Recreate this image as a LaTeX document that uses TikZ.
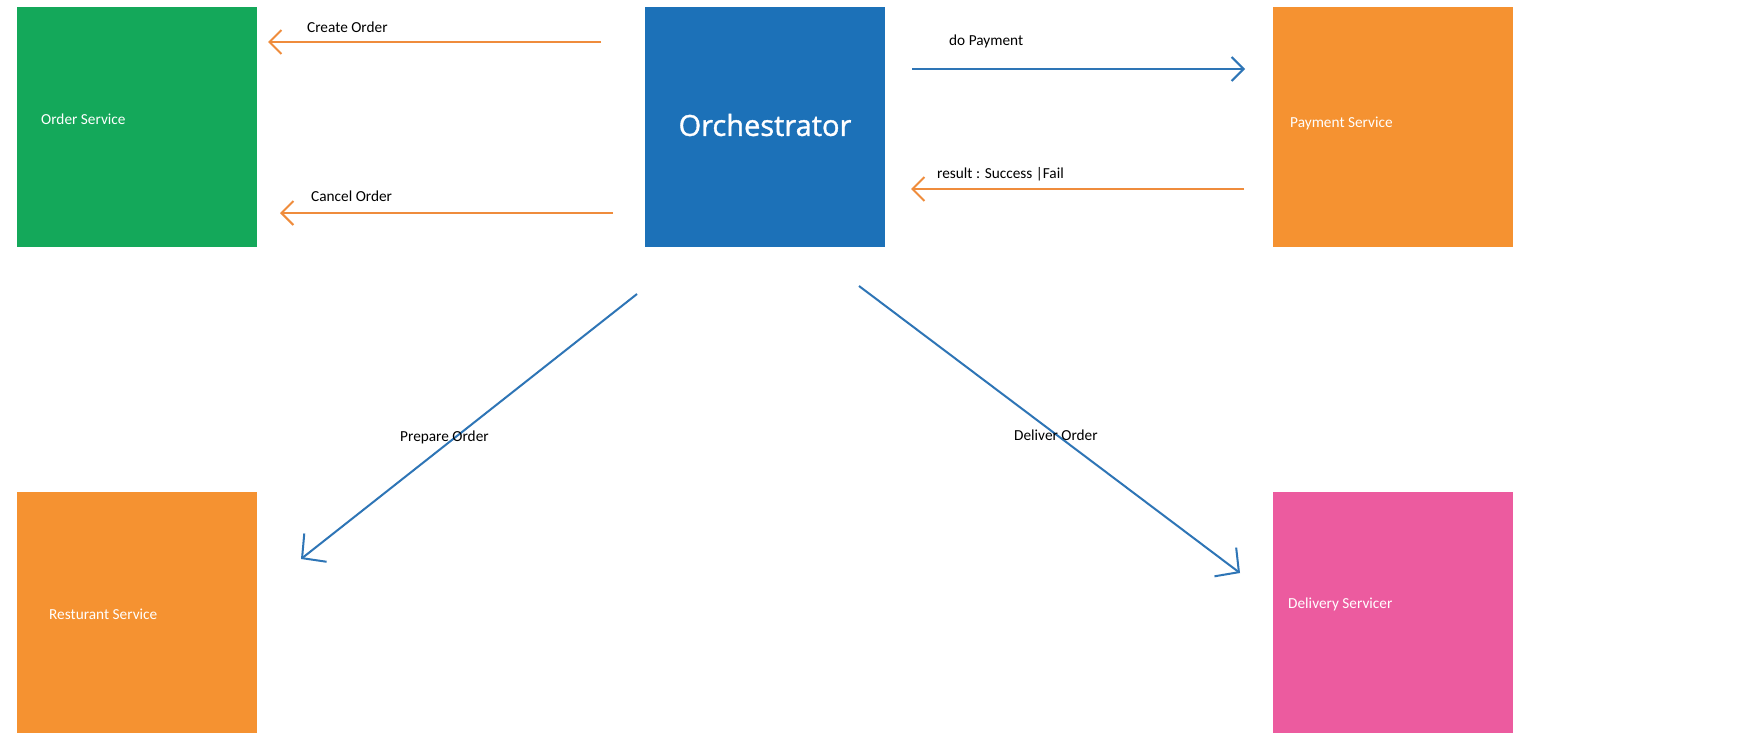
\documentclass[tikz,border=0pt]{standalone}
\usepackage{fontspec}
\setmainfont{Carlito}
\newfontfamily\orchfont[FakeBold=1.2]{Open Sans}
\usetikzlibrary{arrows.meta}
\definecolor{ogreen}{HTML}{14A85A}
\definecolor{oblue}{HTML}{1C71B8}
\definecolor{oorange}{HTML}{F59231}
\definecolor{opink}{HTML}{EC5B9F}
\definecolor{aorange}{HTML}{EF8C3C}
\definecolor{ablue}{HTML}{2E75B6}
\tikzset{
  svcbox/.style={rectangle, minimum width=240pt, minimum height=240pt, inner sep=0pt, draw=none},
  boxtext/.style={anchor=west, inner sep=0pt, text=white, font=\fontsize{15.3}{17}\selectfont},
  lbl/.style={anchor=west, inner sep=0pt, text=black, font=\fontsize{15.3}{17}\selectfont},
  oarrow/.style={draw=aorange, line width=2pt, -{Straight Barb[length=12pt,width=24pt,line width=2pt]}},
  barrow/.style={draw=ablue, line width=2pt, -{Straight Barb[length=12pt,width=24pt,line width=2pt]}},
  darrow/.style={draw=ablue, line width=2pt, -{Straight Barb[length=17pt,width=36pt,line width=2pt]}}
}
\begin{document}
\begin{tikzpicture}[x=1pt,y=-1pt]
\useasboundingbox[fill=white] (0,0) rectangle (1743,739);
% boxes
\node[svcbox, fill=ogreen] (order) at (137,126.5) {};
\node[svcbox, fill=oblue] (orch) at (765,126.5) {};
\node[svcbox, fill=oorange] (pay) at (1392.5,126.5) {};
\node[svcbox, fill=oorange, minimum height=241pt] (rest) at (137,612.5) {};
\node[svcbox, fill=opink, minimum height=241pt] (deliv) at (1392.5,612.5) {};
% box texts
\node[boxtext] (ordert) at (41,119) {Order Service};
\node[text=white, inner sep=0pt, font=\orchfont\fontsize{29}{34}\selectfont] (orcht) at (765,125) {Orchestrator};
\node[boxtext] (payt) at (1290,123) {Payment Service};
\node[boxtext] (restt) at (49,614) {Resturant Service};
\node[boxtext] (delivt) at (1288,604) {Delivery Servicer};
% connector end points
\coordinate (c1s) at (601,42);   \coordinate (c1e) at (268,42);
\coordinate (c2s) at (613,213);  \coordinate (c2e) at (280,213);
\coordinate (c3s) at (912,69);   \coordinate (c3e) at (1245,69);
\coordinate (c4s) at (1244,189); \coordinate (c4e) at (911,189);
\coordinate (c5s) at (637,294);  \coordinate (c5e) at (301,559);
\coordinate (c6s) at (859,286);  \coordinate (c6e) at (1240,573);
% connectors
\draw[oarrow] (c1s) -- (c1e);
\draw[oarrow] (c2s) -- (c2e);
\draw[barrow] (c3s) -- (c3e);
\draw[oarrow] (c4s) -- (c4e);
\draw[darrow] (c5s) -- (c5e);
\draw[darrow] (c6s) -- (c6e);
% labels
\node[lbl] (l1) at (307,27) {Create Order};
\node[lbl] (l2) at (311,196) {Cancel Order};
\node[lbl] (l3) at (949,41) {do Payment};
\node[lbl] (l4) at (937,174) {result : Success |Fail};
\node[lbl] (l5) at (400,437) {Prepare Order};
\node[lbl] (l6) at (1014,435) {Deliver Order};
\end{tikzpicture}
\end{document}
